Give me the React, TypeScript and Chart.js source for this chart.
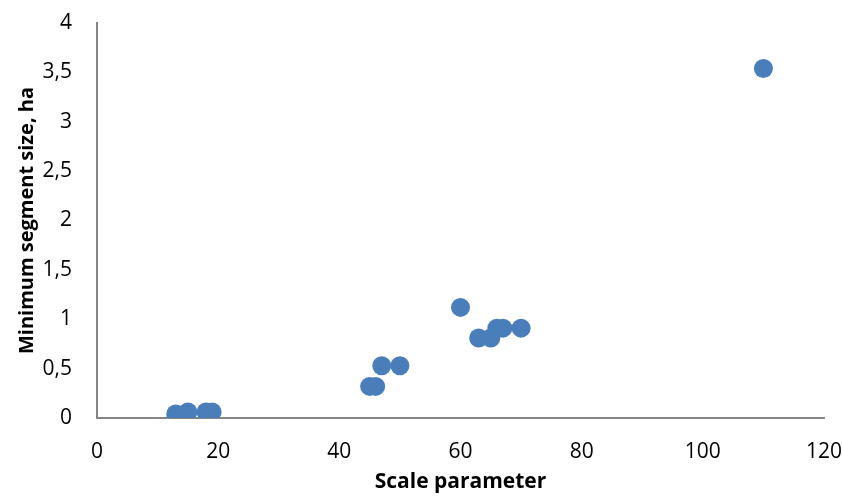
import React, { useEffect, useRef } from "react";
import { Chart, registerables } from "chart.js";

Chart.register(...registerables);

const scaleParameter = [13, 15, 18, 19, 45, 46, 47, 50, 60, 63, 65, 66, 67, 70, 110];
const minSegmentSize = [0.04, 0.06, 0.06, 0.06, 0.32, 0.32, 0.53, 0.53, 1.12, 0.81, 0.81, 0.91, 0.91, 0.91, 3.54];
const xTitle = "Scale parameter";
const yTitle = "Minimum segment size, ha";

const FONT = "'Open Sans', 'Noto Sans', sans-serif";

export default function App() {
  const ref = useRef<HTMLCanvasElement | null>(null);

  useEffect(() => {
    document.body.style.margin = "0";
    if (!ref.current) return;
    const data = scaleParameter.map((x, i) => ({ x, y: minSegmentSize[i] }));
    const zeroPad = (s: any) => {
      s.paddingTop = 0;
      s.paddingBottom = 0;
      s.paddingLeft = 0;
      s.paddingRight = 0;
    };
    const chart = new Chart(ref.current, {
      type: "scatter",
      data: {
        datasets: [
          {
            data,
            backgroundColor: "#4A7EBB",
            borderColor: "#4A7EBB",
            borderWidth: 0,
            pointRadius: 9.5,
            pointHoverRadius: 9.5,
          },
        ],
      },
      options: {
        animation: false,
        responsive: false,
        maintainAspectRatio: false,
        layout: { padding: { top: 23, right: 19, left: 0, bottom: 0 } },
        plugins: { legend: { display: false }, tooltip: { enabled: false } },
        scales: {
          x: {
            type: "linear",
            min: 0,
            max: 120,
            grid: { display: false, drawTicks: false },
            border: { display: true, color: "#868686", width: 2 },
            ticks: {
              stepSize: 20,
              padding: 21,
              color: "#000",
              font: { family: FONT, size: 21 },
            },
            title: {
              display: true,
              text: xTitle,
              color: "#000",
              font: { family: FONT, size: 21, weight: "bold" },
              padding: { top: 0, bottom: 4 },
            },
            afterFit: (s: any) => {
              s.height = 81;
              zeroPad(s);
            },
          },
          y: {
            type: "linear",
            min: 0,
            max: 4,
            grid: { display: false, drawTicks: false },
            border: { display: true, color: "#868686", width: 2 },
            ticks: {
              stepSize: 0.5,
              padding: 25,
              color: "#000",
              font: { family: FONT, size: 21 },
              callback: (v: any) => String(v).replace(".", ","),
            },
            title: {
              display: true,
              text: yTitle,
              color: "#000",
              font: { family: FONT, size: 20, weight: "bold" },
              padding: { top: 15, bottom: 0 },
            },
            afterFit: (s: any) => {
              s.width = 97;
              zeroPad(s);
            },
          },
        },
      },
    });
    return () => chart.destroy();
  }, []);

  return (
    <div style={{ position: "absolute", left: 0, top: 0, width: 843, height: 499, background: "#fff" }}>
      <canvas ref={ref} width={843} height={499} style={{ width: 843, height: 499 }} />
    </div>
  );
}
